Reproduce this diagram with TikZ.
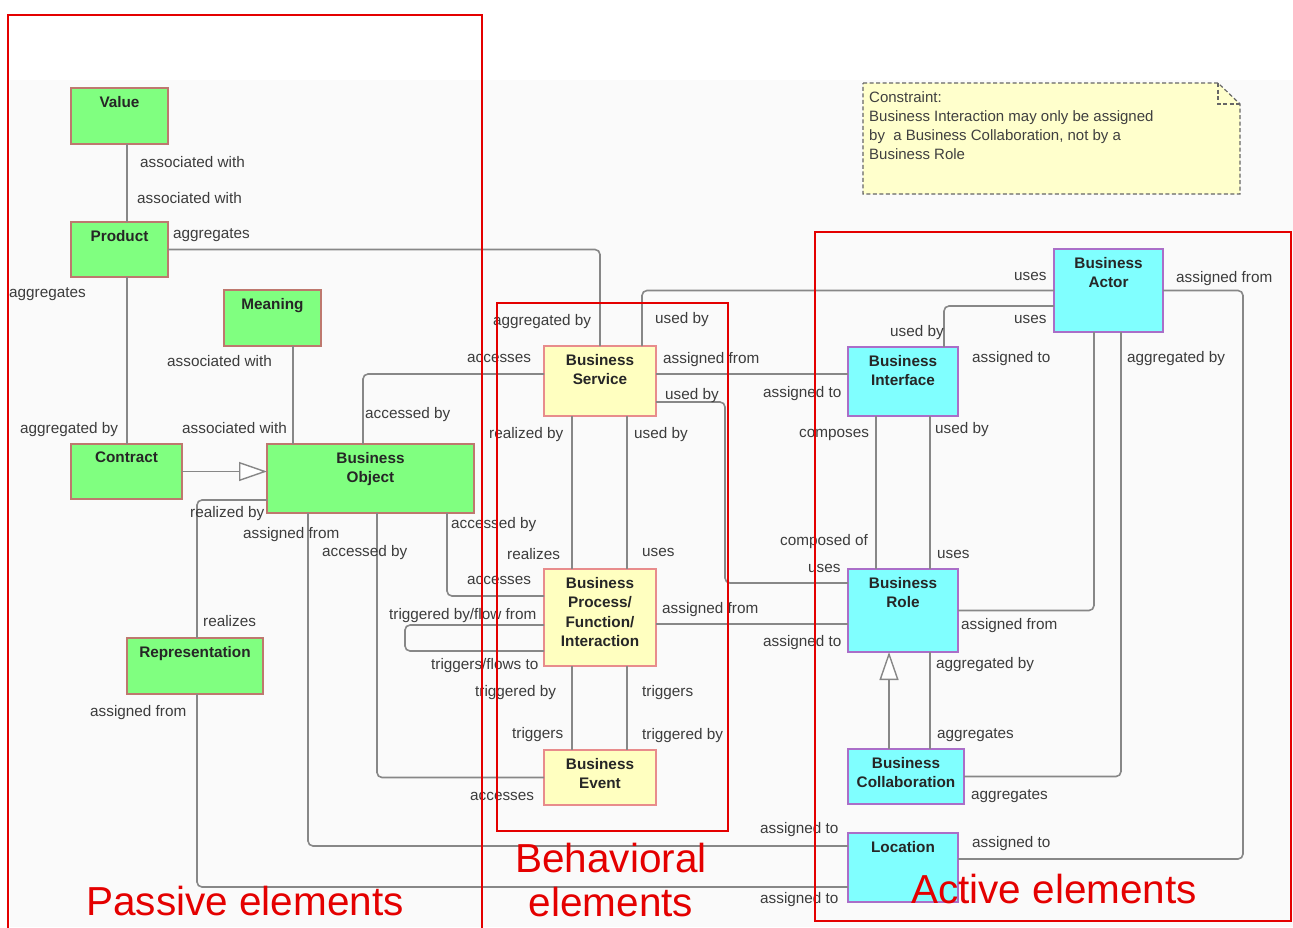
\documentclass[tikz,border=0pt]{standalone}
\usepackage{fontspec}
\setmainfont{Liberation Sans}
\usetikzlibrary{arrows.meta,fit}

\definecolor{passivefill}{RGB}{128,255,128}
\definecolor{behavfill}{RGB}{255,255,192}
\definecolor{activefill}{RGB}{128,255,255}
\definecolor{passiveedge}{RGB}{190,120,110}
\definecolor{behavedge}{RGB}{232,140,140}
\definecolor{activeedge}{RGB}{170,110,200}
\definecolor{linkgray}{RGB}{135,135,135}
\definecolor{labelgray}{RGB}{60,60,60}
\definecolor{groupred}{RGB}{228,0,0}
\definecolor{notefill}{RGB}{255,255,204}
\definecolor{canvasgray}{RGB}{250,250,250}

\begin{document}
\begin{tikzpicture}[x=1pt,y=-1pt,
  elem/.style={draw, line width=1.2pt, inner sep=0pt, outer sep=0pt},
  passive/.style={elem, fill=passivefill, draw=passiveedge},
  behav/.style={elem, fill=behavfill, draw=behavedge},
  active/.style={elem, fill=activefill, draw=activeedge},
  ttl/.style={anchor=north, inner sep=0pt, yshift=-8pt, align=center,
    font=\fontsize{15.3}{19.5}\selectfont\bfseries, text=black!85},
  conn/.style={draw=linkgray, line width=1.6pt, rounded corners=5pt},
  gen/.style={conn, -{Triangle[open, length=28pt, width=19pt, fill=white, line width=1.4pt]}},
  lbl/.style={anchor=west, inner sep=0pt, text height=11pt, text depth=0pt,
    font=\fontsize{15.3}{18}\selectfont, text=labelgray},
  groupbox/.style={draw=groupred, line width=2.5pt},
  grouptext/.style={anchor=base, inner sep=0pt, text=groupred,
    font=\fontsize{40.5}{48}\selectfont},
  notebox/.style={draw=black!60, dash pattern=on 4pt off 2.5pt, line width=1.2pt, fill=notefill},
  notetext/.style={anchor=north west, inner sep=0pt, align=left,
    font=\fontsize{15}{19}\selectfont, text=black!75}
]
\useasboundingbox (0,0) rectangle (1293,927);
\fill[canvasgray] (10,80) rectangle (1293,927);

% ---------- elements ----------
\node[passive, fit={(71,88)(168,144)}, label={[ttl, name=value-t]north:{Value}}] (value) {};
\node[passive, fit={(71,222)(168,277)}, label={[ttl, name=product-t]north:{Product}}] (product) {};
\node[passive, fit={(224,290)(321,346)}, label={[ttl, name=meaning-t]north:{Meaning}}] (meaning) {};
\node[passive, fit={(71,444)(182,499)}, label={[ttl, name=contract-t]north:{Contract}}] (contract) {};
\node[passive, fit={(267,444)(474,513)}, label={[ttl, name=bo-t]north:{Business\\Object}}] (bo) {};
\node[passive, fit={(127,638)(263,694)}, label={[ttl, name=repr-t]north:{Representation}}] (repr) {};

\node[behav, fit={(544,346)(656,416)}, label={[ttl, name=service-t]north:{Business\\Service}}] (service) {};
\node[behav, fit={(544,569)(656,666)}, label={[ttl, name=process-t]north:{Business\\Process/\\Function/\\Interaction}}] (process) {};
\node[behav, fit={(544,750)(656,805)}, label={[ttl, name=event-t]north:{Business\\Event}}] (event) {};

\node[active, fit={(848,347)(958,416)}, label={[ttl, name=interface-t]north:{Business\\Interface}}] (interface) {};
\node[active, fit={(1054,249)(1163,332)}, label={[ttl, name=actor-t]north:{Business\\Actor}}] (actor) {};
\node[active, fit={(848,569)(958,652)}, label={[ttl, name=role-t]north:{Business\\Role}}] (role) {};
\node[active, fit={(848,749)(964,804)}, label={[ttl, name=collab-t]north:{Business\\Collaboration}}] (collab) {};
\node[active, fit={(848,833)(958,902)}, label={[ttl, name=location-t]north:{Location}}] (location) {};

% ---------- relations ----------
\draw[conn] ([xshift=7.5pt]value.south) -- ([xshift=7.5pt]product.north);
\draw[conn] ([xshift=7.5pt]product.south) -- ([xshift=0.5pt]contract.north);
\draw[conn] (product.east) -| (service.north);
\draw[conn] ([xshift=20.5pt]meaning.south) -- ([xshift=20.5pt]meaning.south |- bo.north);
\draw[gen] (contract.east) -- (contract.east -| bo.west);
\draw[conn] ([xshift=-7.5pt]bo.north) |- ([yshift=7pt]service.west);
\draw[conn] ([xshift=76.5pt]bo.south) |- ([yshift=21.5pt]process.west);
\draw[conn] ([xshift=6.5pt]bo.south) |- (event.west);
\draw[conn] ([xshift=-62.5pt]bo.south) |- ([yshift=21.5pt]location.west);
\draw[conn] ([yshift=-21.5pt]bo.west) -| ([xshift=2pt]repr.north);
\draw[conn] ([xshift=2pt]repr.south) |- ([yshift=-19.5pt]location.west);

\draw[conn] ([xshift=-28pt]service.south) -- ([xshift=-28pt]service.south |- process.north);
\draw[conn] ([xshift=27pt]service.south) -- ([xshift=27pt]service.south |- process.north);
\draw[conn] ([yshift=-7.5pt]process.west) -- ++(-139,0) |- ([yshift=-33.5pt]process.west);
\draw[conn] ([xshift=-28pt]process.south) -- ([xshift=-28pt]process.south |- event.north);
\draw[conn] ([xshift=27pt]process.south) -- ([xshift=27pt]process.south |- event.north);
\draw[conn] ([yshift=-6.5pt]process.east) -- ([yshift=-6.5pt]process.east -| role.west);
\draw[conn] ([yshift=7pt]service.east) -- ([yshift=7pt]service.east -| interface.west);
\draw[conn] ([xshift=42pt]service.north) |- (actor.west);
\draw[conn] ([yshift=-21pt]service.east) -- ++(69,0) |- ([yshift=27.5pt]role.west);

\draw[conn] ([xshift=41pt]interface.north) |- ([yshift=-15.5pt]actor.west);
\draw[conn] ([xshift=-27pt]interface.south) -- ([xshift=-27pt]interface.south |- role.north);
\draw[conn] ([xshift=27pt]interface.south) -- ([xshift=27pt]interface.south |- role.north);
\draw[conn] ([xshift=-14.5pt]actor.south) |- (role.east);
\draw[conn] ([xshift=12.5pt]actor.south) |- (collab.east);
\draw[conn] (actor.east) -- ++(80,0) |- ([yshift=8.5pt]location.east);
\draw[gen] ([xshift=-17pt]collab.north) -- ([xshift=-17pt]collab.north |- role.south);
\draw[conn] ([xshift=27pt]role.south) -- ([xshift=27pt]role.south |- collab.north);

% ---------- role names ----------
\node[lbl] (l01) at (140,162) {associated with};
\node[lbl] (l02) at (137,198) {associated with};
\node[lbl] (l03) at (173,233) {aggregates};
\node[lbl] (l04) at (9,292) {aggregates};
\node[lbl] (l05) at (20,428) {aggregated by};
\node[lbl] (l06) at (167,361) {associated with};
\node[lbl] (l07) at (182,428) {associated with};
\node[lbl] (l08) at (365,413) {accessed by};
\node[lbl] (l09) at (190,512) {realized by};
\node[lbl] (l10) at (243,533) {assigned from};
\node[lbl] (l11) at (322,551) {accessed by};
\node[lbl] (l12) at (451,523) {accessed by};
\node[lbl] (l13) at (467,357) {accesses};
\node[lbl] (l14) at (493,320) {aggregated by};
\node[lbl] (l15) at (655,318) {used by};
\node[lbl] (l16) at (663,358) {assigned from};
\node[lbl] (l17) at (665,394) {used by};
\node[lbl] (l18) at (489,433) {realized by};
\node[lbl] (l19) at (634,433) {used by};
\node[lbl] (l20) at (507,554) {realizes};
\node[lbl] (l21) at (642,551) {uses};
\node[lbl] (l22) at (467,579) {accesses};
\node[lbl] (l23) at (389,614) {triggered by/flow from};
\node[lbl] (l24) at (431,664) {triggers/flows to};
\node[lbl] (l25) at (475,691) {triggered by};
\node[lbl] (l26) at (512,733) {triggers};
\node[lbl] (l27) at (642,691) {triggers};
\node[lbl] (l28) at (642,734) {triggered by};
\node[lbl] (l29) at (662,608) {assigned from};
\node[lbl] (l30) at (470,795) {accesses};
\node[lbl] (l31) at (203,621) {realizes};
\node[lbl] (l32) at (90,711) {assigned from};
\node[lbl] (l33) at (763,392) {assigned to};
\node[lbl] (l34) at (763,641) {assigned to};
\node[lbl] (l35) at (760,828) {assigned to};
\node[lbl] (l36) at (760,898) {assigned to};
\node[lbl] (l37) at (1014,275) {uses};
\node[lbl] (l38) at (1014,318) {uses};
\node[lbl] (l39) at (890,331) {used by};
\node[lbl] (l40) at (972,357) {assigned to};
\node[lbl] (l41) at (1176,277) {assigned from};
\node[lbl] (l42) at (1127,357) {aggregated by};
\node[lbl] (l43) at (799,432) {composes};
\node[lbl] (l44) at (935,428) {used by};
\node[lbl] (l45) at (780,540) {composed of};
\node[lbl] (l46) at (808,567) {uses};
\node[lbl] (l47) at (937,553) {uses};
\node[lbl] (l48) at (961,624) {assigned from};
\node[lbl] (l49) at (936,663) {aggregated by};
\node[lbl] (l50) at (937,733) {aggregates};
\node[lbl] (l51) at (971,794) {aggregates};
\node[lbl] (l52) at (972,842) {assigned to};

% ---------- constraint note ----------
\draw[notebox] (863,83) -- (1218,83) -- (1240,104) -- (1240,194) -- (863,194) -- cycle;
\draw[notebox, fill=none] (1218,83) -- (1218,104) -- (1240,104);
\node[notetext] (note) at (869,91) {Constraint:\\Business Interaction may only be assigned\\by\ \ a Business Collaboration, not by a\\Business Role};

% ---------- groups ----------
\draw[groupbox] (8,15) rectangle (482,940);
\draw[groupbox] (497,303) rectangle (728,831);
\draw[groupbox] (815,232) rectangle (1291,921);
\node[grouptext] (gpassive) at (245,915) {Passive elements};
\node[grouptext] (gbehav1) at (611,872) {Behavioral};
\node[grouptext] (gbehav2) at (611,916) {elements};
\node[grouptext] (gactive) at (1054,903) {Active elements};
\end{tikzpicture}
\end{document}
